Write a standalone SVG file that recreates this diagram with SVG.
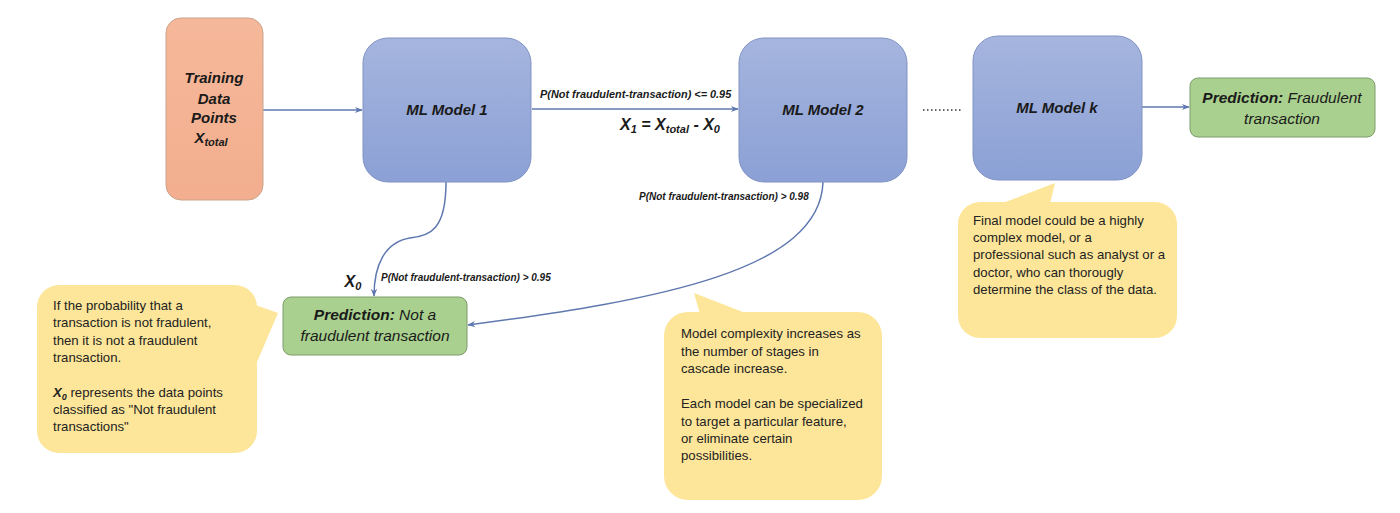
<svg xmlns="http://www.w3.org/2000/svg" width="1400" height="513" viewBox="0 0 1400 513">
<defs>
<linearGradient id="gBlue" x1="0" y1="0" x2="0" y2="1">
<stop offset="0" stop-color="#a5b5de"/><stop offset="1" stop-color="#8ba0d5"/>
</linearGradient>
<linearGradient id="gSalmon" x1="0" y1="0" x2="0" y2="1">
<stop offset="0" stop-color="#f6b89a"/><stop offset="1" stop-color="#f2ae8e"/>
</linearGradient>
<marker id="arr" viewBox="0 0 10 10" refX="9" refY="5" markerWidth="8" markerHeight="8" markerUnits="userSpaceOnUse" orient="auto">
<path d="M0,1 L10,5 L0,9 L3,5 z" fill="#5f78b0"/>
</marker>
<style>
.model{fill:url(#gBlue);stroke:#8193c4;stroke-width:1}
.pred{fill:#a9d08e;stroke:#7f9c6d;stroke-width:1}
.callout{fill:#fde699}
.conn{fill:none;stroke:#5f78b0;stroke-width:1.5}
.title{font-family:"Liberation Sans",Arial,sans-serif;font-weight:bold;font-style:italic;font-size:15px;fill:#1a1a1a;text-anchor:middle}
.ptxt{font-family:"Liberation Sans",Arial,sans-serif;font-style:italic;font-size:15.5px;fill:#1a1a1a;text-anchor:middle}
.lbl{font-family:"Liberation Sans",Arial,sans-serif;font-weight:bold;font-style:italic;font-size:10px;fill:#1a1a1a}
.ctxt{font-family:"Liberation Sans",Arial,sans-serif;font-size:13.2px;fill:#222}
.b{font-weight:bold}
</style>
</defs>

<g id="connectors">
<path class="conn" d="M263,110 H362" marker-end="url(#arr)"/>
<path class="conn" d="M532,109 H738" marker-end="url(#arr)"/>
<path d="M923,110 H963" stroke="#333" stroke-width="1.5" stroke-dasharray="1.5 2.5" fill="none"/>
<path class="conn" d="M1142,107 H1189" marker-end="url(#arr)"/>
<path class="conn" d="M446,182 C446,230 430,236 410,238 C385,242 374,265 374,296" marker-end="url(#arr)"/>
<path class="conn" d="M823,182 C820,270 660,300 468,325" marker-end="url(#arr)"/>
<text class="lbl" x="540" y="98" style="font-size:10.9px">P(Not fraudulent-transaction) &lt;= 0.95</text>
<text class="title" x="670" y="130" style="font-size:16px">X<tspan dy="3" font-size="11">1</tspan><tspan dy="-3"> = X</tspan><tspan dy="3" font-size="11">total</tspan><tspan dy="-3"> - X</tspan><tspan dy="3" font-size="11">0</tspan></text>
<text class="lbl" x="639" y="200">P(Not fraudulent-transaction) &gt; 0.98</text>
<text class="lbl" x="381" y="281">P(Not fraudulent-transaction) &gt; 0.95</text>
<text class="title" x="353" y="287" style="font-size:16px">X<tspan dy="3" font-size="11">0</tspan></text>
</g>

<g id="training">
<rect x="166" y="18" width="97" height="182" rx="15" fill="url(#gSalmon)" stroke="#c9a48c" stroke-width="1"/>
<text class="title" x="214" y="83">Training</text>
<text class="title" x="214" y="104">Data</text>
<text class="title" x="214" y="123">Points</text>
<text class="title" x="211" y="143">X<tspan dy="3" font-size="11">total</tspan></text>
</g>

<g id="model1">
<rect class="model" x="363" y="38" width="168" height="144" rx="25"/>
<text class="title" x="447" y="115">ML Model 1</text>
</g>

<g id="model2">
<rect class="model" x="739" y="38" width="168" height="144" rx="25"/>
<text class="title" x="823" y="115">ML Model 2</text>
</g>

<g id="modelk">
<rect class="model" x="973" y="36" width="169" height="144" rx="25"/>
<text class="title" x="1057" y="113">ML Model k</text>
</g>

<g id="pred-fraud">
<rect class="pred" x="1190" y="78" width="185" height="59" rx="8"/>
<text class="ptxt" x="1282" y="103"><tspan class="b">Prediction:</tspan> Fraudulent</text>
<text class="ptxt" x="1282" y="124">transaction</text>
</g>

<g id="pred-notfraud">
<rect class="pred" x="283" y="297" width="184" height="58" rx="8"/>
<text class="ptxt" x="375" y="320"><tspan class="b">Prediction:</tspan> Not a</text>
<text class="ptxt" x="375" y="341">fraudulent transaction</text>
</g>

<g id="callout-left">
<rect class="callout" x="37" y="285" width="220" height="168" rx="22"/>
<polygon class="callout" points="250,303 278,313 257,362"/>
<text class="ctxt" x="53" y="310">If the probability that a</text>
<text class="ctxt" x="53" y="327">transaction is not fradulent,</text>
<text class="ctxt" x="53" y="345">then it is not a fraudulent</text>
<text class="ctxt" x="53" y="362">transaction.</text>
<text class="ctxt" x="53" y="397"><tspan class="b" font-style="italic">X<tspan dy="3" font-size="9">0</tspan></tspan><tspan dy="-3"> represents the data points</tspan></text>
<text class="ctxt" x="53" y="414">classified as "Not fraudulent</text>
<text class="ctxt" x="53" y="431">transactions"</text>
</g>

<g id="callout-middle">
<rect class="callout" x="664" y="312" width="218" height="188" rx="24"/>
<polygon class="callout" points="700,314 694,293 748,314"/>
<text class="ctxt" x="681" y="338">Model complexity increases as</text>
<text class="ctxt" x="681" y="356">the number of stages in</text>
<text class="ctxt" x="681" y="373">cascade increase.</text>
<text class="ctxt" x="681" y="408">Each model can be specialized</text>
<text class="ctxt" x="681" y="426">to target a particular feature,</text>
<text class="ctxt" x="681" y="443">or eliminate certain</text>
<text class="ctxt" x="681" y="460">possibilities.</text>
</g>

<g id="callout-right">
<rect class="callout" x="958" y="202" width="219" height="136" rx="22"/>
<polygon class="callout" points="1000,204 1055,183 1050,204"/>
<text class="ctxt" x="973" y="225">Final model could be a highly</text>
<text class="ctxt" x="973" y="242">complex model, or a</text>
<text class="ctxt" x="973" y="259">professional such as analyst or a</text>
<text class="ctxt" x="973" y="277">doctor, who can thorougly</text>
<text class="ctxt" x="973" y="294">determine the class of the data.</text>
</g>
</svg>
